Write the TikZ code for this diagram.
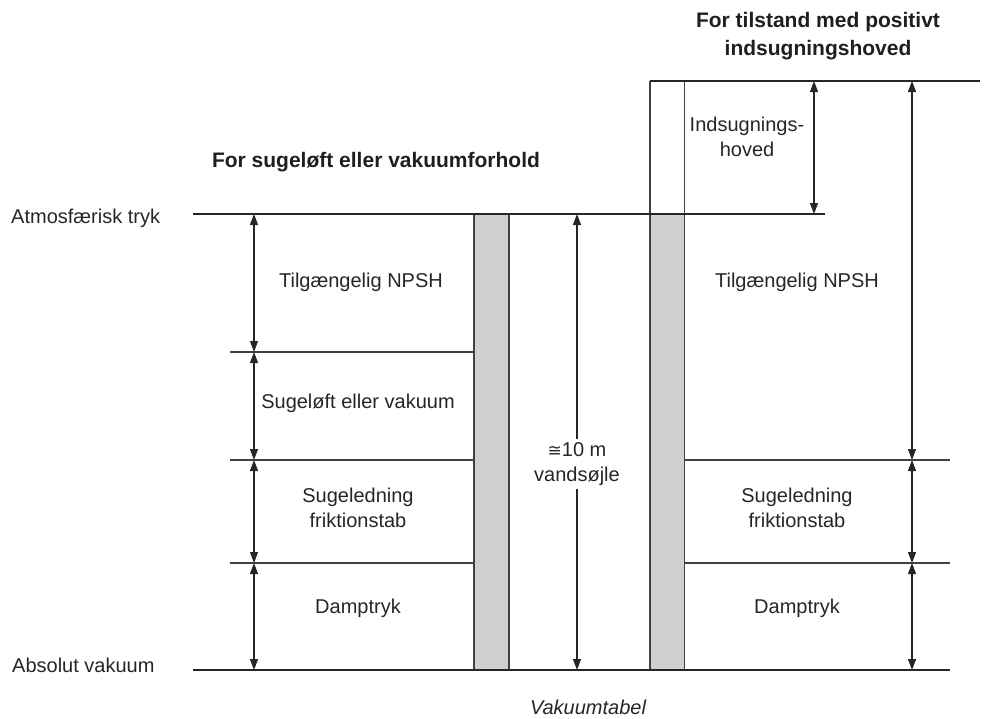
\documentclass[tikz,border=0pt]{standalone}
\usepackage{fontspec}
\setmainfont{Liberation Sans}
\newfontfamily\symfont{DejaVu Sans}
\usetikzlibrary{arrows.meta}
\begin{document}
\begin{tikzpicture}[x=1pt,y=-1pt,
  lbl/.style={font=\fontsize{20}{25}\selectfont, text=black!85, align=center, inner sep=0pt},
  ttl/.style={font=\fontsize{21}{28}\selectfont\bfseries, text=black!88, align=center, inner sep=0pt},
  base/.style={line width=2.4pt, draw=black!85},
  div/.style={line width=1.4pt, draw=black!75},
  col/.style={line width=1.3pt, draw=black!75},
  dim/.style={line width=1.1pt, draw=black!85, {Triangle[length=11pt,width=8pt]}-{Triangle[length=11pt,width=8pt]}},
  dimup/.style={line width=1.1pt, draw=black!85, {Triangle[length=11pt,width=8pt]}-},
  dimdn/.style={line width=1.1pt, draw=black!85, -{Triangle[length=11pt,width=8pt]}}
]
\useasboundingbox (0,0) rectangle (991,718);
% columns
\fill[black!19] (474,214) rectangle (509,670);
\fill[black!19] (650,214) rectangle (684,670);
\draw[col] (474,214) -- (474,670) (509,214) -- (509,670);
\draw[col] (650,81) -- (650,670) (684.5,81) -- (684.5,670);
% main horizontal lines
\draw[base] (193,214) -- (825,214);
\draw[base] (193,670) -- (950,670);
\draw[base] (650,81) -- (980,81);
% division lines
\draw[div] (230,352) -- (474,352);
\draw[div] (230,460) -- (474,460);
\draw[div] (230,563) -- (474,563);
\draw[div] (684,460) -- (950,460);
\draw[div] (684,563) -- (950,563);
% level coordinates
\coordinate (LA) at (254,214); \coordinate (LB) at (254,352);
\coordinate (LC) at (254,460); \coordinate (LD) at (254,563);
\coordinate (LE) at (254,670);
\coordinate (RT) at (912,81); \coordinate (RC) at (912,460);
\coordinate (RD) at (912,563); \coordinate (RE) at (912,670);
\coordinate (IT) at (814,81); \coordinate (IB) at (814,214);
\coordinate (MT) at (577,214); \coordinate (MB) at (577,670);
% dimension arrows
\draw[dim] (LA) -- (LB);
\draw[dim] (LB) -- (LC);
\draw[dim] (LC) -- (LD);
\draw[dim] (LD) -- (LE);
\draw[dim] (RT) -- (RC);
\draw[dim] (RC) -- (RD);
\draw[dim] (RD) -- (RE);
\draw[dim] (IT) -- (IB);
% middle label and arrow
\node[lbl, inner ysep=3pt] (ten) at (577,464) {{\symfont\fontsize{17}{25}\selectfont ≅}10 m\\vandsøjle};
\draw[dimup] (MT) -- (ten.north);
\draw[dimdn] (ten.south) -- (MB);
% labels
\node[lbl] (l1) at (361,282) {Tilgængelig NPSH};
\node[lbl] (l2) at (358,403) {Sugeløft eller vakuum};
\node[lbl] (l3) at (358,508) {Sugeledning\\friktionstab};
\node[lbl] (l4) at (358,608) {Damptryk};
\node[lbl] (r1) at (797,282) {Tilgængelig NPSH};
\node[lbl] (r3) at (797,508) {Sugeledning\\friktionstab};
\node[lbl] (r4) at (797,608) {Damptryk};
\node[lbl] (ih) at (747,137) {Indsugnings-\\hoved};
\node[lbl, anchor=west] (atm) at (11,218) {Atmosfærisk tryk};
\node[lbl, anchor=west] (abs) at (12,665) {Absolut vakuum};
\node[lbl, font=\fontsize{20}{25}\selectfont\itshape] (cap) at (588,707) {Vakuumtabel};
\node[ttl] (t1) at (376,162) {For sugeløft eller vakuumforhold};
\node[ttl] (t2) at (818,36) {For tilstand med positivt\\indsugningshoved};
\end{tikzpicture}
\end{document}
